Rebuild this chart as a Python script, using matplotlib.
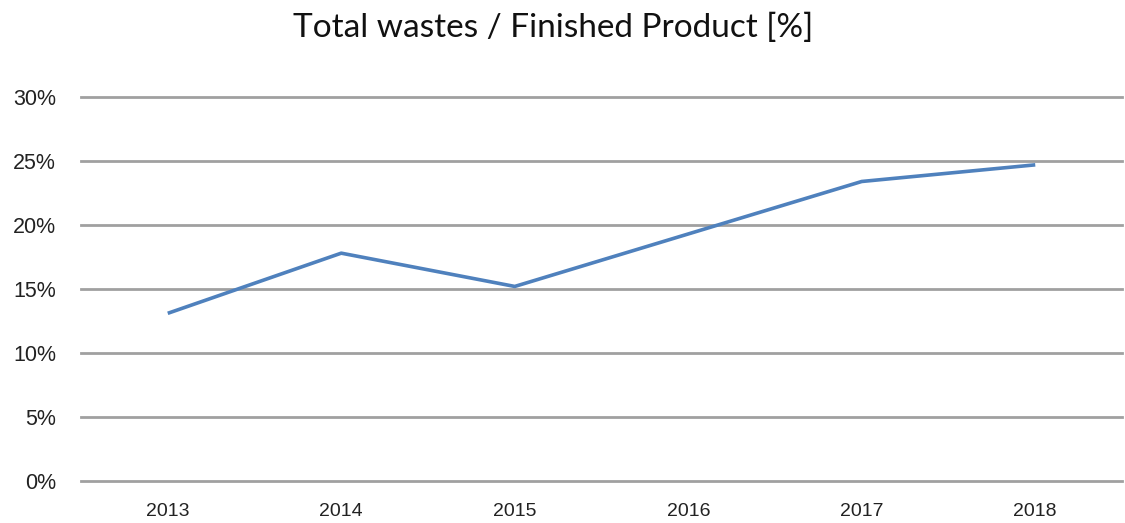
import matplotlib
matplotlib.use("Agg")
import matplotlib.pyplot as plt
from matplotlib.ticker import FuncFormatter

# chart data
years = ['2013', '2014', '2015', '2016', '2017', '2018']
waste_ratio = [0.131, 0.178, 0.152, 0.193, 0.234, 0.247]
y_ticks = [0, 0.05, 0.10, 0.15, 0.20, 0.25, 0.30]

fig = plt.figure(figsize=(11.25, 5.23), dpi=100)
ax = fig.add_axes([81 / 1125, 1 - 481 / 523, (1122 - 81) / 1125, (481 - 97) / 523])

x = list(range(len(years)))
ax.plot(x, waste_ratio, color='#4f81bd', linewidth=2.6, solid_capstyle='butt', zorder=3)

ax.set_xlim(-0.5, len(years) - 0.5)
ax.set_ylim(0, 0.30)
ax.set_yticks(y_ticks)
ax.yaxis.set_major_formatter(FuncFormatter(lambda v, p: f"{v * 100:.0f}%"))
ax.set_xticks(x)
ax.set_xticklabels(years)

ax.grid(axis='y', color='#a0a0a0', linewidth=2)
for gl in ax.get_ygridlines():
    gl.set_clip_on(False)
ax.set_axisbelow(True)
for s in ax.spines.values():
    s.set_visible(False)
ax.tick_params(length=0, colors='#222222')
ax.tick_params(axis='y', pad=18, labelsize=15.5)
ax.tick_params(axis='x', pad=16, labelsize=14)
for lbl in ax.get_xticklabels() + ax.get_yticklabels():
    lbl.set_fontfamily('Liberation Sans')

fig.text(553 / 1125, 1 - 28 / 523, 'Total wastes / Finished Product [%]',
         ha='center', va='center', fontsize=24, family='Lato', color='#111111')

fig.savefig('out.png', dpi=100)
